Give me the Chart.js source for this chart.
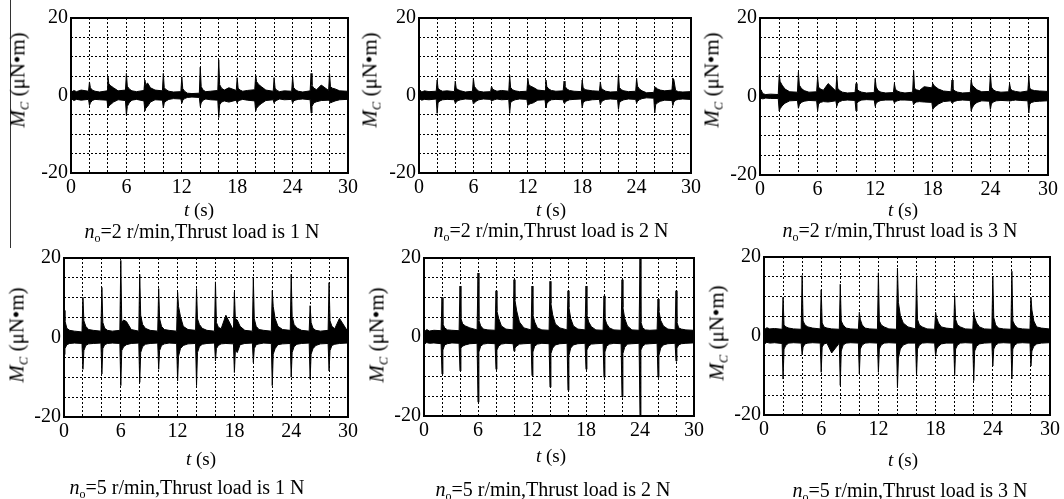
<!DOCTYPE html>
<html>
<head>
<meta charset="utf-8">
<script src="https://cdn.jsdelivr.net/npm/chart.js@4.4.1/dist/chart.umd.min.js"></script>
<style>
  body { margin: 0; width: 1064px; height: 499px; background: #fff; position: relative; overflow: hidden;
         font-family: 'Liberation Serif', 'Times New Roman', serif; color: #000; }
  canvas { position: absolute; }
  .lbl { position: absolute; white-space: nowrap; transform: translate(-50%, -50%); }
  .ytitle { position: absolute; white-space: nowrap; font-size: 21px; transform: translate(-50%, -50%) rotate(-90deg); }
  .xtitle { font-size: 19px; }
  .cap { font-size: 20px; }
  sub { font-size: 60%; vertical-align: -0.35em; line-height: 0; }
  .vline { position: absolute; left: 10px; top: 0; width: 1px; height: 248px; background: #333; }
</style>
</head>
<body>
<div class="vline"></div>
<script>
// muestreo: inicio de cada ciclo de 2 s y desfases dentro del ciclo
const periodStarts = [0, 2, 4, 6, 8, 10, 12, 14, 16, 18, 20, 22, 24, 26, 28];
const sampleOffsets = [0, 0.1, 0.3, 0.6, 1.1, 1.9];
const tEnd = 30;

const xTicks = [0, 6, 12, 18, 24, 30];
const yTicks = [-20, 0, 20];

// envolventes (uN*m), 6 valores por ciclo + final
// n=2 r/min, 1 N
const hi21 = [1.2,0.9,1.3,1.0,1.4,1.1, 3.5,2.0,1.4,1.1,0.9,1.2, 4.8,3.0,2.5,2.0,1.2,1.4, 5.7,2.4,1.7,1.2,1.0,1.3,
  4.0,2.8,3.2,2.0,1.4,1.2, 5.7,2.0,1.5,1.1,0.9,1.0, 4.8,1.8,1.1,0.6,0.5,0.6, 7.3,2.3,1.4,1.0,1.1,1.3,
  9.2,2.8,1.9,1.4,2.0,1.3, 4.6,1.9,1.4,1.1,1.3,1.5, 5.2,3.6,2.9,2.3,1.4,1.1, 4.6,1.9,1.3,1.0,1.2,1.1,
  4.8,2.1,1.5,1.1,0.9,1.2, 5.7,2.6,1.9,1.5,2.7,1.3, 5.7,2.3,1.9,1.7,1.2,1.1, 0.9];
const lo21 = [-1.1,-0.9,-1.3,-1.0,-1.2,-1.0, -2.6,-1.9,-1.3,-1.0,-1.1,-1.2, -3.2,-2.7,-2.3,-1.7,-1.1,-1.3, -5.1,-2.8,-1.9,-1.2,-1.0,-1.4,
  -4.0,-3.3,-2.8,-1.7,-1.1,-1.2, -3.2,-1.9,-1.4,-1.0,-0.8,-0.9, -2.0,-1.3,-0.8,-0.5,-0.4,-0.5, -2.8,-1.9,-1.2,-0.9,-1.1,-1.2,
  -5.7,-2.4,-1.7,-1.4,-1.7,-1.2, -2.0,-1.4,-1.2,-1.0,-1.2,-1.4, -4.0,-3.3,-2.7,-2.1,-1.3,-1.1, -2.0,-1.5,-1.2,-0.9,-1.1,-1.0,
  -2.0,-1.4,-1.2,-1.0,-0.9,-1.1, -4.5,-2.8,-1.9,-1.6,-1.3,-1.2, -1.5,-1.9,-1.7,-1.4,-1.1,-1.0, -0.9];

// n=2 r/min, 2 N
const hi22 = [1.1,1.4,0.9,1.2,1.0,1.1, 4.0,1.9,1.4,1.1,1.2,1.0, 3.7,1.9,1.5,1.2,0.9,1.1, 4.4,2.4,1.7,1.1,0.9,1.0,
  2.4,1.7,1.4,1.1,1.3,1.1, 5.2,2.1,1.5,1.2,1.0,1.1, 4.4,2.9,2.4,2.1,1.4,1.2, 4.0,2.3,1.7,1.3,1.1,1.2,
  3.7,2.4,1.7,1.3,1.1,1.0, 4.0,2.1,1.5,1.4,1.2,1.1, 3.5,1.9,1.5,1.1,0.9,1.0, 5.5,2.1,1.5,1.2,1.0,1.1,
  4.4,2.4,1.7,1.2,0.7,0.8, 1.9,2.1,1.7,1.4,1.2,1.4, 4.4,4.2,1.3,1.0,0.9,1.0, 0.9];
const lo22 = [-1.1,-0.9,-1.2,-1.0,-1.1,-0.9, -4.6,-1.9,-1.4,-1.1,-1.0,-1.1, -2.0,-1.7,-1.3,-1.1,-0.9,-1.0, -2.2,-1.9,-1.5,-1.1,-0.9,-1.0,
  -1.5,-1.3,-1.1,-0.9,-1.1,-1.0, -4.6,-1.9,-1.4,-1.1,-0.9,-1.0, -2.6,-2.3,-2.1,-1.9,-1.2,-1.1, -3.2,-2.1,-1.5,-1.1,-1.0,-1.1,
  -2.0,-1.7,-1.4,-1.1,-1.0,-0.9, -3.2,-1.9,-1.4,-1.3,-1.1,-1.0, -2.4,-1.7,-1.3,-1.0,-0.9,-1.0, -3.6,-1.9,-1.4,-1.1,-0.9,-1.0,
  -2.0,-1.5,-1.1,-0.8,-0.6,-0.7, -4.5,-2.4,-1.9,-1.5,-1.2,-1.3, -2.6,-1.7,-1.2,-1.0,-0.9,-1.0, -0.9];

// n=2 r/min, 3 N
const hi23 = [0.9,1.7,0.7,0.5,0.6,0.5, 5.4,3.8,2.9,1.9,1.2,1.1, 6.2,2.9,2.1,1.5,1.1,1.2, 5.0,2.4,1.9,1.6,3.3,1.4,
  5.2,2.1,1.5,1.1,0.9,1.0, 3.3,1.9,1.4,1.1,0.9,1.0, 4.6,2.4,1.5,1.1,0.9,1.0, 3.3,1.9,1.4,1.1,0.9,1.1,
  6.5,2.1,1.7,1.5,2.5,2.2, 3.3,2.9,2.4,1.9,1.4,1.2, 4.2,1.9,1.4,1.1,0.9,1.0, 4.2,2.9,2.4,1.7,1.2,1.3,
  5.8,2.4,1.7,1.3,1.1,1.2, 3.3,1.9,1.5,1.3,1.1,1.4, 5.0,2.1,1.7,1.5,1.4,1.3, 1.1];
const lo23 = [-0.6,-0.5,-0.6,-0.4,-0.5,-0.5, -3.7,-3.1,-2.4,-1.7,-1.1,-1.0, -3.0,-2.1,-1.5,-1.2,-1.0,-1.1, -3.7,-1.9,-1.5,-1.3,-1.4,-1.1,
  -2.5,-1.7,-1.3,-1.0,-0.9,-1.0, -3.7,-1.7,-1.2,-0.9,-0.8,-0.9, -2.5,-1.7,-1.3,-1.0,-0.9,-0.9, -1.7,-1.3,-1.1,-0.9,-0.9,-1.0,
  -2.1,-1.7,-1.4,-1.3,-1.4,-1.5, -3.3,-2.9,-2.5,-1.9,-1.3,-1.1, -1.7,-1.4,-1.2,-1.0,-0.9,-1.0, -3.7,-2.9,-2.1,-1.5,-1.1,-1.2,
  -3.3,-1.9,-1.4,-1.1,-1.0,-1.1, -1.2,-1.1,-1.0,-0.9,-1.0,-1.1, -4.2,-1.9,-1.5,-1.3,-1.2,-1.1, -1.0];

// n=5 r/min, 1 N
const hi51 = [6.8,4.2,2.3,1.8,1.6,1.4, 10.1,4.2,2.8,2.0,1.8,1.6, 12.6,3.8,2.3,1.8,1.6,1.8, 19.4,3.8,4.4,4.0,2.0,1.6,
  15.9,5.6,3.3,2.3,1.8,1.6, 12.3,4.7,2.8,2.0,1.8,1.6, 11.4,7.8,5.3,2.8,2.0,1.8, 12.3,4.7,3.3,2.3,1.8,1.6,
  14.0,3.8,2.6,2.2,5.6,1.8, 11.4,4.7,4.4,2.8,1.8,1.6, 15.0,4.7,2.8,2.0,1.8,1.6, 11.8,7.8,4.8,2.8,2.0,1.8,
  15.9,5.3,3.3,2.4,1.8,1.6, 8.0,3.8,2.3,1.8,1.6,1.8, 13.8,4.2,2.8,2.2,4.8,1.8, 1.6];
const lo51 = [-4.3,-2.8,-1.8,-1.5,-1.4,-1.5, -8.0,-3.3,-2.0,-1.6,-1.5,-1.4, -9.2,-2.8,-1.8,-1.5,-1.4,-1.5, -12.1,-3.3,-2.3,-1.8,-1.5,-1.4,
  -11.3,-3.8,-2.3,-1.7,-1.5,-1.4, -8.0,-3.3,-2.0,-1.6,-1.4,-1.5, -10.9,-4.7,-2.8,-2.0,-1.6,-1.5, -12.1,-3.8,-2.3,-1.7,-1.5,-1.4,
  -5.9,-2.8,-2.0,-1.6,-1.5,-1.6, -8.8,-3.3,-3.8,-1.8,-1.5,-1.4, -6.3,-2.8,-1.8,-1.6,-1.4,-1.5, -12.1,-4.2,-2.8,-1.8,-1.6,-1.5,
  -10.0,-3.8,-2.3,-1.7,-1.5,-1.4, -10.5,-4.2,-2.8,-2.0,-1.6,-1.5, -8.4,-3.3,-2.0,-1.7,-1.5,-1.4, -1.4];

// n=5 r/min, 2 N
const hi52 = [1.7,1.4,1.9,1.5,1.7,1.6, 10.0,3.3,2.3,1.8,1.7,1.6, 12.9,4.7,3.3,2.8,2.3,1.8, 16.2,4.2,2.8,2.0,1.8,1.7,
  11.7,6.6,4.7,2.8,2.0,1.8, 14.5,9.4,6.6,3.8,2.3,1.8, 12.9,5.6,3.8,2.3,1.8,1.7, 14.1,8.5,5.6,3.3,2.3,1.8,
  11.7,7.5,4.7,2.8,2.0,1.8, 12.9,5.6,3.8,2.6,1.8,1.7, 10.4,4.7,3.3,2.3,1.8,1.7, 14.5,7.5,4.7,2.8,1.8,1.7,
  20.0,3.8,2.3,1.8,1.7,1.8, 9.6,6.6,4.2,2.8,2.0,1.8, 11.7,3.8,2.3,2.0,1.8,1.7, 1.7];
const lo52 = [-1.5,-1.7,-1.4,-1.6,-1.5,-1.7, -9.4,-3.3,-2.0,-1.7,-1.5,-1.6, -8.6,-2.8,-2.3,-2.0,-1.7,-1.6, -16.5,-3.8,-2.3,-1.8,-1.6,-1.7,
  -8.2,-3.3,-2.3,-1.8,-1.6,-1.7, -3.6,-2.8,-2.3,-1.8,-1.7,-1.6, -9.8,-3.8,-2.3,-1.8,-1.6,-1.7, -12.7,-4.2,-2.8,-2.0,-1.7,-1.6,
  -13.5,-4.7,-2.8,-2.0,-1.7,-1.6, -8.2,-3.3,-2.3,-1.8,-1.7,-1.6, -10.2,-3.8,-2.3,-1.8,-1.6,-1.7, -15.2,-4.2,-2.6,-1.8,-1.7,-1.6,
  -20.0,-3.3,-2.3,-1.8,-1.7,-1.6, -10.2,-4.7,-2.8,-2.0,-1.7,-1.6, -6.1,-2.8,-2.0,-1.7,-1.6,-1.5, -1.6];

// n=5 r/min, 3 N
const hi53 = [1.9,1.7,2.1,1.8,1.9,1.7, 9.8,2.8,2.3,2.0,1.8,1.7, 15.3,3.8,2.8,2.3,2.0,1.8, 11.7,3.3,2.3,2.0,1.8,1.7,
  13.1,3.8,2.8,2.0,1.8,1.7, 6.0,4.2,2.8,2.0,1.8,1.7, 16.0,3.8,2.8,2.3,1.8,1.7, 17.2,8.5,5.2,3.3,2.3,1.8,
  15.2,4.2,2.8,2.3,1.8,1.7, 6.0,4.7,3.3,2.3,2.0,1.8, 10.2,4.2,2.8,2.3,1.8,1.7, 6.2,4.7,3.3,2.3,1.8,1.7,
  15.0,4.7,2.8,2.0,1.8,1.7, 16.4,3.8,2.8,2.0,1.8,1.7, 9.8,6.6,3.8,2.3,2.0,1.8, 1.8];
const lo53 = [-1.7,-1.9,-1.6,-1.8,-1.7,-1.9, -10.9,-3.3,-2.3,-1.8,-1.7,-1.8, -4.7,-2.8,-2.0,-1.8,-1.7,-1.8, -9.2,-2.8,-2.0,-1.8,-4.3,-1.8,
  -12.5,-3.8,-2.3,-1.8,-1.7,-1.8, -9.6,-3.3,-2.3,-1.8,-1.7,-1.8, -9.2,-3.3,-2.3,-1.8,-1.7,-1.8, -13.1,-5.6,-3.3,-2.3,-1.8,-1.8,
  -10.0,-3.3,-2.3,-1.8,-1.7,-1.8, -5.1,-3.3,-2.6,-2.0,-1.8,-1.8, -10.0,-3.3,-2.3,-1.8,-1.7,-1.8, -11.3,-3.8,-2.6,-2.0,-1.8,-1.7,
  -7.6,-3.3,-2.3,-1.8,-1.7,-1.8, -10.9,-3.3,-2.3,-1.8,-1.7,-1.8, -7.6,-3.8,-2.6,-2.0,-1.8,-1.7, -1.8];

const captions = ["2 r/min,Thrust load is 1 N", "2 r/min,Thrust load is 2 N", "2 r/min,Thrust load is 3 N",
                  "5 r/min,Thrust load is 1 N", "5 r/min,Thrust load is 2 N", "5 r/min,Thrust load is 3 N"];

// tiempos de muestreo
const times = [];
periodStarts.forEach(p => sampleOffsets.forEach(o => times.push(+(p + o).toFixed(2))));
times.push(tEnd);

// posicion de cada panel: area de grafico [izq, arriba, der, abajo] y textos
const panels = [
  { rect: [71, 15, 348, 173],  hi: hi21, lo: lo21, yt: [18, 80],   xt: [199, 210], cp: [202, 231] },
  { rect: [419, 15, 691, 173], hi: hi22, lo: lo22, yt: [370, 80],  xt: [551, 210], cp: [551, 230] },
  { rect: [760, 15, 1048, 175], hi: hi23, lo: lo23, yt: [712, 80], xt: [903, 210], cp: [900, 230] },
  { rect: [64, 255, 348, 417], hi: hi51, lo: lo51, yt: [17, 335],  xt: [201, 459], cp: [187, 487] },
  { rect: [424, 255, 694, 416], hi: hi52, lo: lo52, yt: [377, 335], xt: [551, 456], cp: [553, 489] },
  { rect: [764, 254, 1050, 415], hi: hi53, lo: lo53, yt: [717, 333], xt: [903, 460], cp: [910, 490] }
];

const YW = 46, PT = 12, PR = 14, XH = 30;

Chart.defaults.font.family = "'Liberation Serif', 'Times New Roman', serif";
Chart.defaults.color = '#000';

const framePlugin = {
  id: 'frame',
  afterDraw(chart) {
    const { ctx, chartArea: a } = chart;
    ctx.save();
    ctx.strokeStyle = '#000';
    ctx.lineWidth = 2;
    ctx.strokeRect(a.left, a.top, a.right - a.left, a.bottom - a.top);
    ctx.restore();
  }
};

function addLabel(cls, html, x, y) {
  const d = document.createElement('div');
  d.className = cls;
  d.innerHTML = html;
  d.style.left = x + 'px';
  d.style.top = y + 'px';
  document.body.appendChild(d);
}

panels.forEach((p, i) => {
  const [L, T, R, B] = p.rect;
  const cv = document.createElement('canvas');
  cv.width = (R - L) + YW + PR;
  cv.height = (B - T) + PT + XH;
  cv.style.left = (L - YW) + 'px';
  cv.style.top = (T - PT) + 'px';
  document.body.appendChild(cv);

  new Chart(cv, {
    type: 'line',
    data: {
      datasets: [
        {
          data: times.map((t, k) => ({ x: t, y: p.hi[k] })),
          borderColor: '#000', borderWidth: 1, pointRadius: 0, tension: 0, fill: false
        },
        {
          data: times.map((t, k) => ({ x: t, y: p.lo[k] })),
          borderColor: '#000', borderWidth: 1, pointRadius: 0, tension: 0,
          fill: '-1', backgroundColor: '#000'
        }
      ]
    },
    options: {
      responsive: false,
      animation: false,
      events: [],
      layout: { padding: { top: PT, right: PR, left: 0, bottom: 0 } },
      plugins: { legend: { display: false }, tooltip: { enabled: false } },
      scales: {
        x: {
          type: 'linear', min: 0, max: tEnd,
          afterFit: s => { s.height = XH; },
          ticks: {
            stepSize: 2, autoSkip: false, maxRotation: 0, padding: 3,
            font: { size: 20 },
            callback: v => xTicks.includes(v) ? String(v) : ''
          },
          grid: { color: '#000', lineWidth: 1, drawTicks: false },
          border: { display: false, dash: [2, 2] }
        },
        y: {
          min: -20, max: 20,
          afterFit: s => { s.width = YW; },
          ticks: {
            stepSize: 5, autoSkip: false, padding: 3,
            font: { size: 20 },
            callback: v => yTicks.includes(v) ? String(v) : ''
          },
          grid: { color: '#000', lineWidth: 1, drawTicks: false },
          border: { display: false, dash: [2, 2] }
        }
      }
    },
    plugins: [framePlugin]
  });

  addLabel('ytitle', '<i>M</i><sub><i>C</i></sub> (μN•m)', p.yt[0], p.yt[1]);
  addLabel('lbl xtitle', '<i>t</i> (s)', p.xt[0], p.xt[1]);
  addLabel('lbl cap', '<i>n</i><sub>o</sub>=' + captions[i], p.cp[0], p.cp[1]);
});
</script>
</body>
</html>
